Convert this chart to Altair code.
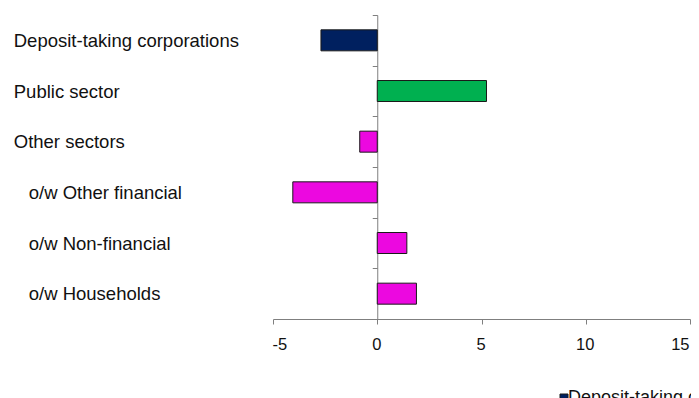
import altair as alt
import pandas as pd

categories = ["Deposit-taking corporations", "Public sector", "Other sectors",
              "o/w Other financial", "o/w Non-financial", "o/w Households"]
values = [-2.7, 5.24, -0.84, -4.05, 1.42, 1.88]
series = ["Deposit-taking corporations", "Public sector", "Other sectors",
          "Other sectors", "Other sectors", "Other sectors"]
series_order = ["Deposit-taking corporations", "Public sector", "Other sectors"]
series_colors = ["#00205F", "#00B050", "#EC08E0"]
x_ticks = [-5, 0, 5, 10, 15]

df = pd.DataFrame({"category": categories, "value": values, "series": series})

FONT = "Liberation Sans"

# "of which" rows are indented a little to the right
indent_padding = alt.condition(
    "isString(datum.value) && indexof(datum.value, 'o/w') == 0",
    alt.value(344), alt.value(359))

chart = alt.Chart(df).mark_bar(size=21, stroke="#1a1a1a", strokeWidth=1).encode(
    x=alt.X("value:Q",
            scale=alt.Scale(domain=[-5, 15], nice=False, zero=False),
            axis=alt.Axis(values=x_ticks, title=None, grid=False,
                          labelExpr="'' + datum.value",
                          domainColor="#7f7f7f", tickColor="#7f7f7f", tickSize=5,
                          labelFontSize=16.5, labelFont=FONT, labelColor="#111111",
                          labelPadding=12.5, labelOffset=-1)),
    y=alt.Y("category:N", sort=categories,
            scale=alt.Scale(paddingInner=0, paddingOuter=0),
            axis=alt.Axis(title=None, offset=-104.25, tickBand="extent",
                          domainColor="#7f7f7f", tickColor="#7f7f7f", tickSize=5,
                          labelAlign="left", labelPadding=indent_padding, labelLimit=400,
                          labelFontSize=18.5, labelFont=FONT, labelColor="#111111")),
    color=alt.Color("series:N",
                    scale=alt.Scale(domain=series_order, range=series_colors),
                    legend=alt.Legend(title=None, orient="none", legendX=282, legendY=374,
                                      direction="horizontal", symbolType="square",
                                      symbolSize=64, symbolStrokeColor="#1a1a1a",
                                      symbolStrokeWidth=1, labelFontSize=18, labelFont=FONT,
                                      labelColor="#111111", labelOffset={"expr": "-5"},
                                      columnPadding=30, labelLimit=400)),
).properties(
    width=417,
    height=304,
    autosize=alt.AutoSizeParams(type="none"),
    padding={"left": 265, "top": 7, "right": 1, "bottom": 79},
    background="white",
).configure_view(stroke=None)

chart.save("out.html", embed_options={"renderer": "svg", "actions": False})
